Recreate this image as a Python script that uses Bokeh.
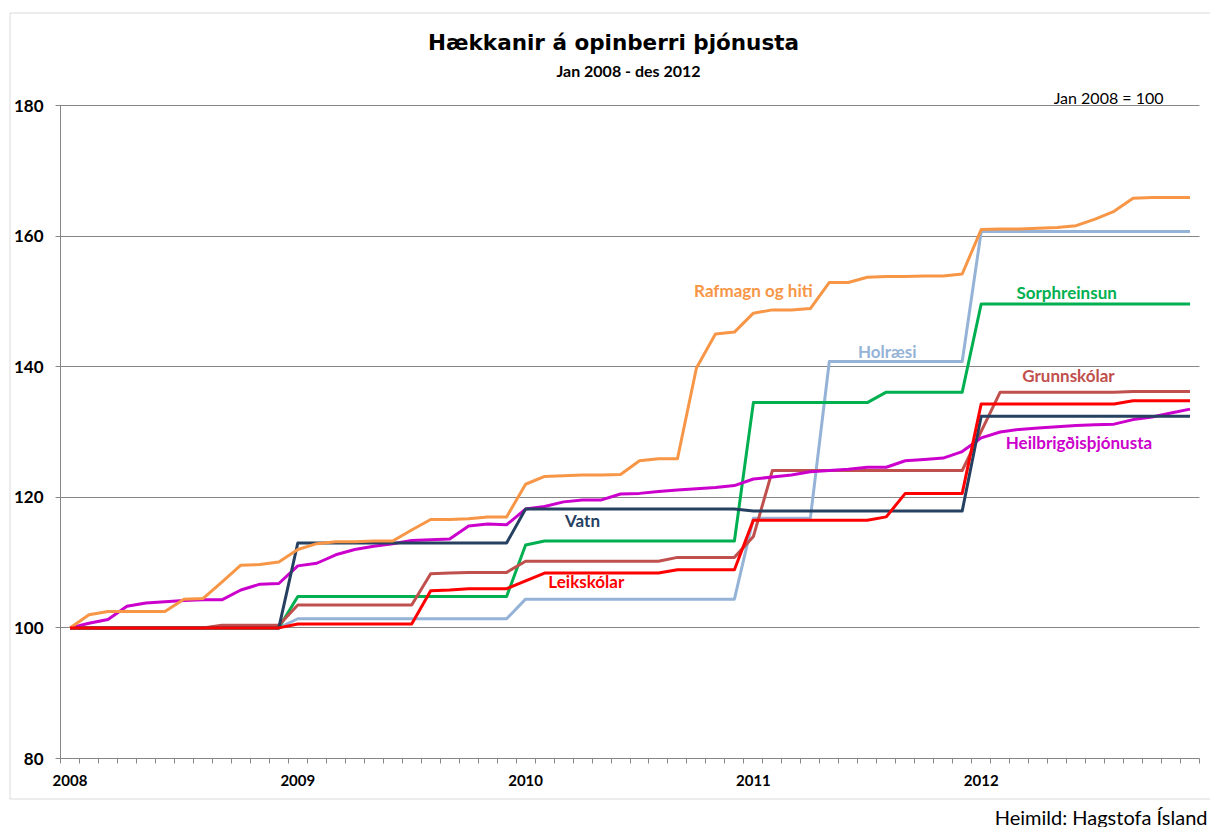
import numpy as np
from bokeh.plotting import figure
from bokeh.models import ColumnDataSource, Range1d, FixedTicker, Label, BoxAnnotation
from bokeh.embed import file_html
from bokeh.resources import INLINE

# ---------------- data (monthly index, Jan 2008 = 100) ----------------
years = ["2008", "2009", "2010", "2011", "2012"]
y_ticks = [80, 100, 120, 140, 160, 180]

rafmagn_og_hiti = [100.0, 102.0, 102.5, 102.5, 102.5, 102.5, 104.4, 104.5, 107.0, 109.6, 109.7, 110.1,
                   112.0, 112.9, 113.2, 113.2, 113.3, 113.3, 115.0, 116.6, 116.6, 116.7, 117.0, 117.0,
                   122.0, 123.2, 123.3, 123.4, 123.4, 123.5, 125.6, 125.9, 125.9, 139.8, 145.0, 145.3,
                   148.2, 148.7, 148.7, 148.9, 152.9, 152.9, 153.7, 153.8, 153.8, 153.9, 153.9, 154.2,
                   161.0, 161.1, 161.1, 161.2, 161.3, 161.6, 162.6, 163.8, 165.8, 165.9, 165.9, 165.9]

holraesi = [100.0, 100.0, 100.0, 100.0, 100.0, 100.0, 100.0, 100.0, 100.0, 100.0, 100.0, 100.0,
            101.4, 101.4, 101.4, 101.4, 101.4, 101.4, 101.4, 101.4, 101.4, 101.4, 101.4, 101.4,
            104.4, 104.4, 104.4, 104.4, 104.4, 104.4, 104.4, 104.4, 104.4, 104.4, 104.4, 104.4,
            116.8, 116.8, 116.8, 116.8, 140.8, 140.8, 140.8, 140.8, 140.8, 140.8, 140.8, 140.8,
            160.7, 160.7, 160.7, 160.7, 160.7, 160.7, 160.7, 160.7, 160.7, 160.7, 160.7, 160.7]

sorphreinsun = [100.0, 100.0, 100.0, 100.0, 100.0, 100.0, 100.0, 100.0, 100.0, 100.0, 100.0, 100.0,
                104.8, 104.8, 104.8, 104.8, 104.8, 104.8, 104.8, 104.8, 104.8, 104.8, 104.8, 104.8,
                112.7, 113.3, 113.3, 113.3, 113.3, 113.3, 113.3, 113.3, 113.3, 113.3, 113.3, 113.3,
                134.5, 134.5, 134.5, 134.5, 134.5, 134.5, 134.5, 136.1, 136.1, 136.1, 136.1, 136.1,
                149.6, 149.6, 149.6, 149.6, 149.6, 149.6, 149.6, 149.6, 149.6, 149.6, 149.6, 149.6]

grunnskolar = [100.0, 100.0, 100.0, 100.0, 100.0, 100.0, 100.0, 100.0, 100.4, 100.4, 100.4, 100.4,
               103.5, 103.5, 103.5, 103.5, 103.5, 103.5, 103.5, 108.3, 108.4, 108.5, 108.5, 108.5,
               110.2, 110.2, 110.2, 110.2, 110.2, 110.2, 110.2, 110.2, 110.8, 110.8, 110.8, 110.8,
               114.0, 124.1, 124.1, 124.1, 124.1, 124.1, 124.1, 124.1, 124.1, 124.1, 124.1, 124.1,
               130.1, 136.1, 136.1, 136.1, 136.1, 136.1, 136.1, 136.1, 136.2, 136.2, 136.2, 136.2]

heilbrigdis = [100.0, 100.7, 101.3, 103.3, 103.8, 104.0, 104.2, 104.3, 104.3, 105.8, 106.7, 106.8,
               109.5, 109.9, 111.2, 112.0, 112.5, 112.9, 113.4, 113.5, 113.6, 115.6, 115.9, 115.8,
               118.2, 118.6, 119.3, 119.6, 119.6, 120.5, 120.6, 120.9, 121.1, 121.3, 121.5, 121.8,
               122.8, 123.1, 123.4, 123.9, 124.1, 124.3, 124.6, 124.6, 125.6, 125.8, 126.0, 127.0,
               129.1, 130.0, 130.4, 130.6, 130.8, 131.0, 131.1, 131.2, 131.9, 132.3, 132.9, 133.5]

vatn = [100.0, 100.0, 100.0, 100.0, 100.0, 100.0, 100.0, 100.0, 100.0, 100.0, 100.0, 100.0,
        113.0, 113.0, 113.0, 113.0, 113.0, 113.0, 113.0, 113.0, 113.0, 113.0, 113.0, 113.0,
        118.2, 118.2, 118.2, 118.2, 118.2, 118.2, 118.2, 118.2, 118.2, 118.2, 118.2, 118.2,
        117.9, 117.9, 117.9, 117.9, 117.9, 117.9, 117.9, 117.9, 117.9, 117.9, 117.9, 117.9,
        132.4, 132.4, 132.4, 132.4, 132.4, 132.4, 132.4, 132.4, 132.4, 132.4, 132.4, 132.4]

leikskolar = [100.0, 100.0, 100.0, 100.0, 100.0, 100.0, 100.0, 100.0, 100.0, 100.0, 100.0, 100.0,
              100.6, 100.6, 100.6, 100.6, 100.6, 100.6, 100.6, 105.7, 105.8, 106.0, 106.0, 106.0,
              107.2, 108.4, 108.4, 108.4, 108.4, 108.4, 108.4, 108.4, 108.9, 108.9, 108.9, 108.9,
              116.5, 116.5, 116.5, 116.5, 116.5, 116.5, 116.5, 117.0, 120.6, 120.6, 120.6, 120.6,
              134.3, 134.3, 134.3, 134.3, 134.3, 134.3, 134.3, 134.3, 134.8, 134.8, 134.8, 134.8]

series = [
    # (name, column, color, label x (month idx), label y (value))
    ("Holræsi", "hol", "#95B3D7", 43.05, 142.37),
    ("Sorphreinsun", "sor", "#00B050", 52.5, 151.41),
    ("Grunnskólar", "gru", "#C0504D", 52.6, 138.65),
    ("Heilbrigðisþjónusta", "hei", "#CC00CC", 53.15, 128.35),
    ("Vatn", "vat", "#254061", 27.0, 116.45),
    ("Rafmagn og hiti", "raf", "#F79646", 36.0, 151.67),
    ("Leikskólar", "lei", "#FF0000", 27.2, 107.06),
]

n_months = len(rafmagn_og_hiti)
month_pos = np.arange(n_months)
src = ColumnDataSource(dict(x=month_pos, raf=rafmagn_og_hiti, hol=holraesi, sor=sorphreinsun,
                            gru=grunnskolar, hei=heilbrigdis, vat=vatn, lei=leikskolar))

FONT = "Lato"
GRAY = "#868686"
W, H = 1210, 827

# pixel geometry of the plotting area inside the canvas
AX_L, AX_R, AX_T, AX_B = 60, 1199, 105, 758
px_month = (AX_R - AX_L) / n_months
px_unit = (AX_B - AX_T) / (y_ticks[-1] - y_ticks[0])
x_lo, x_hi = -0.5, n_months - 0.5
xr = Range1d(x_lo - AX_L / px_month, x_hi + (W - AX_R) / px_month)
yr = Range1d(y_ticks[0] - (H - AX_B) / px_unit, y_ticks[-1] + AX_T / px_unit)

p = figure(width=W, height=H, output_backend="svg", toolbar_location=None,
           x_range=xr, y_range=yr,
           min_border_left=0, min_border_right=0, min_border_top=0, min_border_bottom=0)
p.title.visible = False
p.outline_line_color = None
p.background_fill_color = "white"
p.border_fill_color = "white"
p.xgrid.visible = False
p.ygrid.visible = False

for name, col, color, lx, ly in series:
    p.line("x", col, source=src, line_width=3, line_color=color, line_join="round")

# x axis: year labels at January, small ticks between months
year_pos = [i * 12 for i in range(len(years))]
xa = p.xaxis[0]
xa.fixed_location = y_ticks[0]
xa.bounds = (x_lo, x_hi)
xa.ticker = FixedTicker(ticks=year_pos, minor_ticks=[i - 0.5 for i in range(n_months + 1)])
xa.major_label_overrides = {pos: lab for pos, lab in zip(year_pos, years)}
xa.major_tick_out = 0
xa.major_tick_in = 0
xa.minor_tick_out = 5
xa.minor_tick_in = 0
xa.minor_tick_line_color = GRAY
xa.axis_line_color = GRAY
xa.major_label_text_font = FONT
xa.major_label_text_font_style = "bold"
xa.major_label_text_font_size = "15px"
xa.major_label_text_color = "black"
xa.major_label_standoff = 11

# y axis (its inward ticks serve as the horizontal gridlines)
ya = p.yaxis[0]
ya.fixed_location = x_lo
ya.bounds = (y_ticks[0], y_ticks[-1])
ya.ticker = FixedTicker(ticks=y_ticks)
ya.major_tick_out = 5
ya.major_tick_in = AX_R - AX_L
ya.minor_tick_line_color = None
ya.major_tick_line_color = GRAY
ya.axis_line_color = GRAY
ya.major_label_text_font = FONT
ya.major_label_text_font_style = "bold"
ya.major_label_text_font_size = "17px"
ya.major_label_text_color = "black"
ya.major_label_standoff = 12
ya.level = "underlay"

for name, col, color, lx, ly in series:
    p.add_layout(Label(x=lx, y=ly, text=name, text_color=color, text_font=FONT,
                       text_font_style="bold", text_font_size="17px",
                       text_align="center", text_baseline="alphabetic"))

# titles and notes
p.add_layout(Label(x=613, y=42, x_units="canvas", y_units="canvas",
                   text="Hækkanir á opinberri þjónusta", text_font="DejaVu Sans", text_font_style="bold",
                   text_font_size="21.5px", text_align="center", text_baseline="alphabetic",
                   text_color="black"))
p.add_layout(Label(x=628, y=70, x_units="canvas", y_units="canvas",
                   text="Jan 2008 - des 2012", text_font=FONT, text_font_style="bold",
                   text_font_size="16px", text_align="center", text_baseline="alphabetic",
                   text_color="black"))
p.add_layout(Label(x=1163, y=97, x_units="canvas", y_units="canvas",
                   text="Jan 2008 = 100", text_font=FONT,
                   text_font_size="16px", text_align="right", text_baseline="alphabetic",
                   text_color="black"))
p.add_layout(Label(x=1207, y=816, x_units="canvas", y_units="canvas",
                   text="Heimild: Hagstofa Ísland", text_font=FONT,
                   text_font_size="20px", text_align="right", text_baseline="alphabetic",
                   text_color="black"))

# chart border
p.add_layout(BoxAnnotation(left=9.5, right=W + 20, top=12.5, bottom=798.5,
                           left_units="canvas", right_units="canvas",
                           top_units="canvas", bottom_units="canvas",
                           fill_alpha=0, fill_color=None, line_color=GRAY, line_width=1,
                           level="underlay"))

open("out.html", "w").write(file_html(p, INLINE))
